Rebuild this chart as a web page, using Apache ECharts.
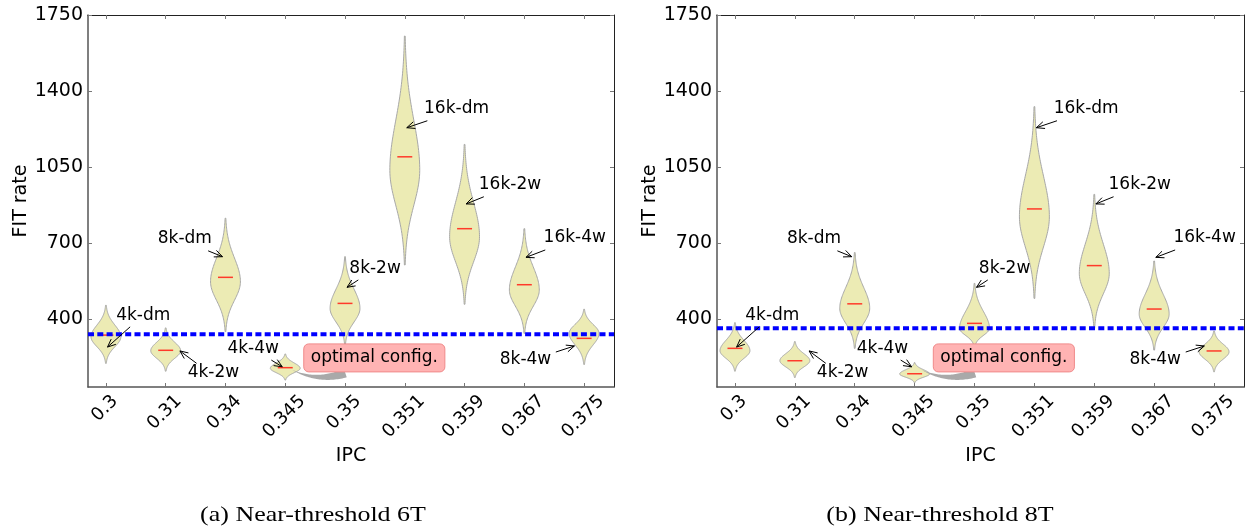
<!DOCTYPE html>
<html>
<head>
<meta charset="utf-8">
<script src="https://cdn.jsdelivr.net/npm/echarts@6/dist/echarts.min.js"></script>
<style>
  html, body { margin: 0; padding: 0; background: #fff; }
  #chart { width: 1252px; height: 531px; }
</style>
</head>
<body>
<div id="chart"></div>
<script>
// ---- data ---------------------------------------------------------------
const ipcLabels = ['0.3', '0.31', '0.34', '0.345', '0.35', '0.351', '0.359', '0.367', '0.375'];
const configNames = ['4k-dm', '4k-2w', '8k-dm', '4k-4w', '8k-2w', '16k-dm', '16k-2w', '16k-4w', '8k-4w'];

// Near-threshold 6T: FIT-rate spread per cache configuration
const nt6T_low    = [146, 110, 292,  69, 230,  599,  418, 284, 141];
const nt6T_high   = [413, 309, 814, 189, 637, 1653, 1154, 766, 395];
const nt6T_peak   = [268, 204, 522, 123, 399, 1036,  729, 484, 284];
const nt6T_median = [276, 206, 542, 126, 422, 1097,  766, 508, 261];
const nt6T_baseline = 280;

// Near-threshold 8T
const nt8T_low    = [110,  81, 215,  57, 221,  445, 307, 207, 107];
const nt8T_high   = [333, 246, 656, 149, 514, 1328, 924, 617, 295];
const nt8T_peak   = [204, 158, 399,  97, 307,  821, 560, 373, 199];
const nt8T_median = [215, 158, 420,  98, 330,  857, 596, 396, 203];
const nt8T_baseline = 308;

const yTickValues = [350, 700, 1050, 1400, 1750];
const yTickLabels = ['400', '700', '1050', '1400', '1750'];

// ---- layout / annotation placement -------------------------------------
const X_MIN = 0.7, X_MAX = 9.5, Y_MIN = 37, Y_MAX = 1750;
const VIOLIN_HALF = 0.25, MEDIAN_HALF = 0.125;
const FONT = '"DejaVu Sans", sans-serif';

// label anchor (left, middle), arrow start and arrow tip, in data units
const callouts = [
  { at: [1.172, 368], from: [1.405, 314], to: [1.027, 221] },
  { at: [2.367, 103], from: [2.517, 146], to: [2.238, 203] },
  { at: [1.867, 722], from: [2.71, 664],  to: [2.95, 637] },
  { at: [3.033, 215], from: [3.767, 161], to: [3.95, 130] },
  { at: [5.072, 583], from: [5.222, 530], to: [5.033, 496] },
  { at: [6.322, 1320], from: [6.377, 1263], to: [6.033, 1231] },
  { at: [7.238, 970], from: [7.322, 913], to: [7.027, 880] },
  { at: [8.322, 724], from: [8.35, 668],  to: [8.027, 634] },
  { at: [7.588, 164], from: [8.527, 198], to: [8.838, 226] }
];
const optimalNote = {
  text: 'optimal config.', at: [5.49, 171],
  tip: [4.122, 115], ctrl: [4.538, 58], base: [5.005, 101]
};

const panels = [
  { low: nt6T_low, high: nt6T_high, peak: nt6T_peak, median: nt6T_median, baseline: nt6T_baseline,
    grid: { left: 88, top: 15, width: 526, height: 372 }, caption: '(a) Near-threshold 6T', captionX: 313 },
  { low: nt8T_low, high: nt8T_high, peak: nt8T_peak, median: nt8T_median, baseline: nt8T_baseline,
    grid: { left: 717, top: 15, width: 527, height: 372 }, caption: '(b) Near-threshold 8T', captionX: 940 }
];

const positions = ipcLabels.map((_, i) => i + 1);

const measureCtx = document.createElement('canvas').getContext('2d');
function textWidth(s, size) {
  measureCtx.font = size + 'px "DejaVu Sans"';
  return measureCtx.measureText(s).width;
}

// ---- render helpers -----------------------------------------------------
function violinItem(panel) {
  return function (params, api) {
    const pos = api.value(0), lo = api.value(1), hi = api.value(2), peak = api.value(3), med = api.value(4);
    const halfW = api.size([VIOLIN_HALF, 0])[0];
    const c = api.coord([pos, peak]);
    const yHi = api.coord([pos, hi])[1];
    const yLo = api.coord([pos, lo])[1];
    const sUp = (c[1] - yHi) / 2.7, sDn = (yLo - c[1]) / 2.7;
    const N = 80, right = [], left = [];
    for (let k = 0; k <= N; k++) {
      const y = yHi + (yLo - yHi) * k / N;
      const d = y - c[1];
      const s = d < 0 ? sUp : sDn;
      const w = halfW * Math.exp(-0.5 * (d / s) * (d / s));
      right.push([c[0] + w, y]);
      left.push([c[0] - w, y]);
    }
    const pts = right.concat(left.reverse());
    const m = api.coord([pos, med]);
    const mh = api.size([MEDIAN_HALF, 0])[0];
    return {
      type: 'group',
      children: [
        { type: 'polygon', shape: { points: pts },
          style: { fill: '#ecebb4', stroke: '#a8a8a8', lineWidth: 1 } },
        { type: 'line', shape: { x1: m[0] - mh, y1: m[1], x2: m[0] + mh, y2: m[1] },
          style: { stroke: '#ff3a2a', lineWidth: 1.5 } }
      ]
    };
  };
}

function calloutItem(params, api) {
  const i = params.dataIndex;
  const cfg = callouts[i];
  const a = api.coord(cfg.at), f = api.coord(cfg.from), t = api.coord(cfg.to);
  const dx = t[0] - f[0], dy = t[1] - f[1];
  const len = Math.hypot(dx, dy) || 1;
  const ux = dx / len, uy = dy / len, px = -uy, py = ux;
  const L = 8, W = 3.5;
  return {
    type: 'group',
    children: [
      { type: 'text', x: a[0], y: a[1],
        style: { text: configNames[i], fontSize: 17, fontFamily: FONT, fill: '#000', align: 'left', verticalAlign: 'middle' } },
      { type: 'line', shape: { x1: f[0], y1: f[1], x2: t[0], y2: t[1] },
        style: { stroke: '#000', lineWidth: 1 } },
      { type: 'polyline', shape: { points: [
          [t[0] - L * ux + W * px, t[1] - L * uy + W * py], [t[0], t[1]],
          [t[0] - L * ux - W * px, t[1] - L * uy - W * py]] },
        style: { stroke: '#000', lineWidth: 1, fill: null } }
    ]
  };
}

function noteItem(params, api) {
  const c = api.coord(optimalNote.at);
  const tw = textWidth(optimalNote.text, 17);
  const bw = tw + 14, bh = 28;
  const T = api.coord(optimalNote.tip), C = api.coord(optimalNote.ctrl), B = api.coord(optimalNote.base);
  const N = 40, upper = [], lower = [];
  const baseHalf = 4.5;
  for (let k = 0; k <= N; k++) {
    const s = k / N;
    const x = (1 - s) * (1 - s) * T[0] + 2 * (1 - s) * s * C[0] + s * s * B[0];
    const y = (1 - s) * (1 - s) * T[1] + 2 * (1 - s) * s * C[1] + s * s * B[1];
    let tx = 2 * (1 - s) * (C[0] - T[0]) + 2 * s * (B[0] - C[0]);
    let ty = 2 * (1 - s) * (C[1] - T[1]) + 2 * s * (B[1] - C[1]);
    const tl = Math.hypot(tx, ty) || 1;
    const nx = -ty / tl, ny = tx / tl;
    const w = baseHalf * s;
    upper.push([x + nx * w, y + ny * w]);
    lower.push([x - nx * w, y - ny * w]);
  }
  return {
    type: 'group',
    children: [
      { type: 'polygon', shape: { points: upper.concat(lower.reverse()) },
        style: { fill: '#a9a9a9', stroke: null } },
      { type: 'rect', shape: { x: c[0] - bw / 2, y: c[1] - bh / 2, width: bw, height: bh, r: 5 },
        style: { fill: '#ffb3b3', stroke: '#f08a8a', lineWidth: 1 } },
      { type: 'text', x: c[0], y: c[1],
        style: { text: optimalNote.text, fontSize: 17, fontFamily: FONT, fill: '#000', align: 'center', verticalAlign: 'middle' } }
    ]
  };
}

function tickLabelItem(params, api) {
  const label = ipcLabels[params.dataIndex];
  const p = api.coord([api.value(0), Y_MIN]);
  const w = textWidth(label, 18);
  const cy = p[1] + 7.5 + (w - 2 + 13) * 0.3536;
  return {
    type: 'text', x: p[0] - 1, y: cy, rotation: Math.PI / 4,
    style: { text: label, fontSize: 18, fontFamily: FONT, fill: '#000', align: 'center', verticalAlign: 'middle' }
  };
}

// ---- option -------------------------------------------------------------
const grids = [], xAxes = [], yAxes = [], series = [], graphics = [];
panels.forEach((pn, p) => {
  grids.push(pn.grid);
  const tick = { show: true, inside: true, length: 4, lineStyle: { color: '#777', width: 1 } };
  xAxes.push({
    type: 'value', gridIndex: p, min: X_MIN, max: X_MAX, position: 'bottom',
    axisLine: { show: true, onZero: false, lineStyle: { color: '#555', width: 1.5 } },
    axisTick: Object.assign({ customValues: positions }, tick),
    axisLabel: { show: false }, splitLine: { show: false },
    name: 'IPC', nameLocation: 'middle', nameGap: 60,
    nameTextStyle: { fontSize: 19, fontFamily: FONT, color: '#000' }
  });
  xAxes.push({
    type: 'value', gridIndex: p, min: X_MIN, max: X_MAX, position: 'top',
    axisLine: { show: true, onZero: false, lineStyle: { color: '#222', width: 1 } },
    axisTick: Object.assign({ customValues: positions }, tick),
    axisLabel: { show: false }, splitLine: { show: false }
  });
  yAxes.push({
    type: 'value', gridIndex: p, min: Y_MIN, max: Y_MAX, position: 'left',
    axisLine: { show: true, onZero: false, lineStyle: { color: '#555', width: 1.5 } },
    axisTick: Object.assign({ customValues: yTickValues }, tick),
    axisLabel: {
      customValues: yTickValues, margin: 5, fontSize: 19, fontFamily: FONT, color: '#000',
      formatter: v => { const k = yTickValues.indexOf(Number(v)); return k >= 0 ? yTickLabels[k] : ''; }
    },
    splitLine: { show: false },
    name: 'FIT rate', nameLocation: 'middle', nameGap: 57,
    nameTextStyle: { fontSize: 19, fontFamily: FONT, color: '#000' }
  });
  yAxes.push({
    type: 'value', gridIndex: p, min: Y_MIN, max: Y_MAX, position: 'right',
    axisLine: { show: true, onZero: false, lineStyle: { color: '#222', width: 1 } },
    axisTick: Object.assign({ customValues: yTickValues }, tick),
    axisLabel: { show: false }, splitLine: { show: false }
  });

  const xi = 2 * p, yi = 2 * p;
  series.push({
    type: 'custom', name: 'violins', xAxisIndex: xi, yAxisIndex: yi, z: 2, silent: true,
    data: positions.map((x, i) => [x, pn.low[i], pn.high[i], pn.peak[i], pn.median[i]]),
    encode: { x: 0, y: [1, 2] },
    renderItem: violinItem(pn)
  });
  series.push({
    type: 'line', name: 'baseline', xAxisIndex: xi, yAxisIndex: yi, z: 4, silent: true,
    symbol: 'none', data: [[X_MIN, pn.baseline], [X_MAX, pn.baseline]],
    lineStyle: { color: '#0000ff', width: 4, type: [6, 3.3], cap: 'butt' }
  });
  series.push({
    type: 'custom', name: 'callouts', xAxisIndex: xi, yAxisIndex: yi, z: 5, silent: true, clip: false,
    data: callouts.map(c => c.at), renderItem: calloutItem
  });
  series.push({
    type: 'custom', name: 'note', xAxisIndex: xi, yAxisIndex: yi, z: 6, silent: true, clip: false,
    data: [optimalNote.at], renderItem: noteItem
  });
  series.push({
    type: 'custom', name: 'ipc labels', xAxisIndex: xi, yAxisIndex: yi, z: 6, silent: true, clip: false,
    data: positions.map(x => [x, Y_MIN]), renderItem: tickLabelItem
  });
  graphics.push({
    type: 'text', x: pn.captionX, y: 515.5, scaleX: 1.18, silent: true,
    style: { text: pn.caption, font: '22px "Liberation Serif", serif', fill: '#000', align: 'center', verticalAlign: 'middle' }
  });
});

const chart = echarts.init(document.getElementById('chart'), null, { renderer: 'canvas' });
chart.setOption({
  animation: false,
  backgroundColor: '#fff',
  grid: grids,
  xAxis: xAxes,
  yAxis: yAxes,
  series: series,
  graphic: graphics
});
</script>
</body>
</html>
